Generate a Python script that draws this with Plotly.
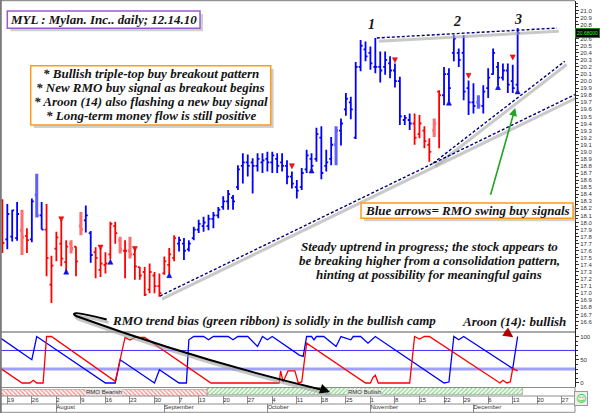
import plotly.graph_objects as go

# ---------------- data ----------------
# trading-day index: 0 = Jul 19 2010, first bar (-1) = Jul 16 2010, last bar (104) = Dec 14 2010
bar_start_index = -1
bar_high = [18.33, 18.26, 18.18, 18.29, 18.18, 17.92, 18.34, 18.69, 18.29, 18.26,
            17.53, 17.87, 18.04, 17.75, 17.75, 17.66, 18.15, 18.24, 17.88, 17.65,
            17.64, 17.58, 18.01, 18.01, 17.80, 17.75, 17.80, 17.64, 17.37, 17.37,
            17.42, 17.30, 17.28, 17.52, 17.64, 17.82, 17.80, 17.78, 17.75, 17.94,
            18.04, 18.08, 18.11, 18.15, 18.22, 18.37, 18.46, 18.39, 18.81, 18.98,
            18.96, 18.91, 18.98, 18.98, 19.00, 19.00, 18.98, 18.98, 18.88, 18.72,
            18.60, 18.77, 19.03, 18.98, 19.34, 19.36, 19.03, 19.21, 19.36, 19.47,
            19.83, 19.78, 20.27, 20.58, 20.56, 20.49, 20.61, 20.42, 20.42, 20.35,
            20.25, 20.06, 19.52, 19.54, 19.54, 19.52, 19.36, 19.19, 19.47, 19.87,
            20.20, 20.18, 20.65, 20.46, 20.65, 20.01, 19.97, 19.80, 19.94, 20.18,
            20.46, 20.27, 20.25, 20.25, 20.23, 20.75]
bar_low = [17.57, 17.62, 17.73, 17.74, 17.54, 17.57, 17.72, 18.07, 17.90, 17.24,
           16.86, 17.45, 17.38, 17.30, 17.56, 17.24, 17.82, 17.86, 17.43, 17.21,
           17.23, 17.28, 17.48, 17.70, 17.56, 17.21, 17.49, 17.19, 17.19, 16.96,
           17.00, 17.00, 16.95, 17.26, 17.28, 17.45, 17.59, 17.47, 17.59, 17.75,
           17.85, 17.87, 17.89, 17.92, 18.06, 18.18, 18.18, 18.18, 18.46, 18.55,
           18.65, 18.41, 18.72, 18.70, 18.72, 18.70, 18.70, 18.72, 18.54, 18.48,
           18.34, 18.46, 18.70, 18.72, 18.86, 18.61, 18.72, 18.81, 18.81, 19.09,
           19.51, 19.46, 19.18, 20.14, 20.28, 20.16, 20.11, 19.98, 20.09, 20.04,
           19.91, 19.38, 19.38, 19.31, 19.10, 19.19, 19.05, 18.86, 19.21, 19.05,
           19.66, 19.71, 20.28, 20.20, 19.73, 19.52, 19.54, 19.61, 19.54, 19.76,
           20.09, 19.94, 20.01, 19.83, 19.83, 19.87]
bar_open = [18.31, 17.76, 17.80, 17.78, 17.89, 17.81, 17.76, 18.39, 18.10, 17.90,
            17.12, 17.63, 17.70, 17.44, 17.70, 17.66, 17.95, 18.03, 17.85, 17.58,
            17.33, 17.40, 17.55, 17.95, 17.75, 17.60, 17.60, 17.55, 17.37, 17.30,
            17.05, 17.25, 17.10, 17.28, 17.40, 17.50, 17.70, 17.70, 17.62, 17.78,
            17.90, 17.95, 17.95, 18.05, 18.10, 18.22, 18.30, 18.35, 18.50, 18.80,
            18.85, 18.85, 18.80, 18.85, 18.90, 18.85, 18.90, 18.85, 18.80, 18.65,
            18.50, 18.50, 18.75, 18.90, 18.90, 19.20, 18.80, 18.90, 19.10, 19.30,
            19.60, 19.70, 19.20, 20.20, 20.45, 20.40, 20.20, 20.20, 20.20, 20.25,
            20.15, 20.00, 19.45, 19.45, 19.40, 19.25, 19.30, 19.10, 19.30, 19.85,
            19.80, 20.10, 20.40, 20.40, 20.40, 19.90, 19.70, 19.70, 19.65, 19.90,
            20.10, 20.20, 20.05, 20.15, 20.00, 19.95]
bar_close = [17.71, 18.12, 18.17, 18.12, 17.79, 17.75, 18.30, 18.10, 17.90, 17.50,
             17.39, 17.79, 17.49, 17.66, 17.63, 17.45, 17.90, 18.10, 17.54, 17.50,
             17.42, 17.42, 17.98, 17.85, 17.62, 17.60, 17.55, 17.38, 17.25, 16.98,
             17.30, 17.10, 17.00, 17.45, 17.55, 17.78, 17.75, 17.60, 17.70, 17.90,
             17.98, 18.00, 18.05, 18.10, 18.18, 18.30, 18.40, 18.30, 18.75, 18.85,
             18.80, 18.80, 18.90, 18.88, 18.85, 18.95, 18.80, 18.80, 18.65, 18.55,
             18.45, 18.70, 18.95, 18.80, 19.25, 18.70, 18.85, 19.10, 19.30, 19.40,
             19.75, 19.60, 20.20, 20.50, 20.35, 20.25, 20.20, 20.15, 20.30, 20.15,
             20.00, 19.50, 19.48, 19.40, 19.20, 19.40, 19.15, 19.00, 19.40, 19.80,
             20.10, 19.90, 20.60, 20.30, 19.85, 19.70, 19.65, 19.65, 19.85, 20.05,
             20.40, 20.05, 20.15, 19.95, 19.90, 20.68]
# r = red bar, b = blue bar, p = pale red (hatched), l = pale blue (hatched)
bar_color = ("rbbbprblbr" "rrrrprpbbr" "rrrrprprrr" "rrrrrrbbbb" "bbbbbbbbbb"
             "bbbbbbbbbb" "bbbbbbbblb" "bbbbbbbbbb" "bbbbrrrrpr" "bbbbbbblbb" "bbbbbb")
last_close_label = "20.68000"

# RMO swing signals (arrows)
sell_idx = [11, 19, 26, 58, 79, 94, 103]
sell_price = [18.01, 17.61, 17.59, 18.76, 20.26, 20.04, 20.30]
buy_idx = [12, 21, 33, 62, 90, 100, 104]
buy_price = [17.34, 17.48, 17.29, 18.77, 19.73, 19.95, 19.89]

# trend lines (index, price)
trend_top_x, trend_top_y = [75.3, 112.0], [20.61, 20.75]
trend_steep_x, trend_steep_y = [86.8, 113.6], [18.84, 20.28]
trend_long_x, trend_long_y = [31.1, 115.7], [16.96, 19.81]

# Aroon(14) vertices
aroon_up_x = [-1.3, 5, 6, 20, 22, 23, 30, 31, 35, 36.5, 37, 38, 40, 41, 42, 45, 46, 47, 49, 51,
              52, 53, 54, 55, 59.5, 60.3, 61, 62, 62.5, 63, 64.5, 67, 68, 70, 70.5, 72, 73.5, 75,
              89, 90, 91, 92, 93, 103, 104]
aroon_up_y = [96, 50, 100, 0, 0, 50, 0, 28.6, 0, 0, 92.9, 100, 100, 92.9, 100, 100, 92.9, 100, 100, 78.6,
              100, 92.9, 100, 92.9, 60, 57.1, 100, 100, 92.9, 100, 100, 78.6, 100, 92.9, 100, 100, 85.7, 100,
              0, 2, 100, 92.9, 100, 31, 100]
aroon_dn_x = [-1.3, 3, 4.6, 5.3, 6, 7.3, 8, 9, 22, 24, 25, 26, 28, 41.5, 55.4, 55.7, 56.2, 57.2, 58.6,
              59.3, 60, 61, 73, 74, 74.5, 75, 75.6, 82, 83, 84, 85, 86, 100.4, 101, 101.8, 102.5, 103, 104]
aroon_dn_y = [31, 0, 0, 5.8, 0, 0, 100, 100, 3.6, 98, 92.4, 98, 98, 0, 0, 26, 2.2, 26, 26,
              0, 2.2, 85.7, 0, 0, 11.6, 16.7, 0, 0, 100, 94.6, 100, 100, 0, 5.8, 0, 2.2, 31, 26]
aroon_levels = [70, 30]

# RMO trend ribbon
ribbon_labels = ["RMO Bearish", "RMO Bullish"]
ribbon_start = [-3.0, 40.75]
ribbon_end = [40.75, 105.0]

# date axis
week_idx = [0, 5, 10, 15, 20, 25, 30, 35, 39, 44, 49, 54, 59, 64, 69, 74, 79, 84, 89, 93, 98, 103, 108, 113]
week_day = ["19", "26", "2", "9", "16", "23", "30", "7", "13", "20", "27", "4", "11", "18", "25",
            "1", "8", "15", "22", "29", "6", "13", "20", "27"]
month_idx = [10, 32, 53, 74, 95]
month_names = ["August", "September", "October", "November", "December"]

# price scale labels (20.7 is hidden behind the last-price marker)
price_ticks = [round(16.6 + 0.1 * i, 1) for i in range(45)]
price_ticktext = ["" if abs(v - 20.7) < 1e-6 else f"{v:.1f}" for v in price_ticks]

# ---------------- layout geometry ----------------
W, H = 600, 413
ML, MR, MT, MB = 1, 25, 1, 0
PW, PH = W - ML - MR, H - MT - MB
XMIN, XMAX = -1.284, 115.69
PRICE_RANGE = [16.451, 21.133]
AROON_RANGE = [-9.3, 109.7]


def px_x(px):
    return (px - ML) / PW


def px_y(py):
    return (H - MB - py) / PH


fig = go.Figure()

# trend lines (shadow + dotted line)
for tx, ty in [(trend_top_x, trend_top_y), (trend_steep_x, trend_steep_y), (trend_long_x, trend_long_y)]:
    fig.add_trace(go.Scatter(x=[v + 0.4 for v in tx], y=[v - 0.045 for v in ty], mode="lines",
                             line=dict(color="rgba(165,165,165,0.6)", width=3),
                             hoverinfo="skip", showlegend=False, xaxis="x", yaxis="y"))
for tx, ty in [(trend_top_x, trend_top_y), (trend_steep_x, trend_steep_y), (trend_long_x, trend_long_y)]:
    fig.add_trace(go.Scatter(x=tx, y=ty, mode="lines",
                             line=dict(color="#00007a", width=1.4, dash="3px,2px"),
                             hoverinfo="skip", showlegend=False, xaxis="x", yaxis="y"))

bar_x = list(range(bar_start_index, bar_start_index + len(bar_high)))
styles = {"r": ("#ff0000", 1.8), "b": ("#0000ff", 1.8), "p": ("#ff6e6e", 3.0), "l": ("#5f5fff", 3.0)}


def pick(vals, g):
    return [v if c == g else None for v, c in zip(vals, bar_color)]


for g, (col, wid) in styles.items():
    fig.add_trace(go.Ohlc(x=bar_x, open=pick(bar_open, g), high=pick(bar_high, g),
                          low=pick(bar_low, g), close=pick(bar_close, g),
                          increasing=dict(line=dict(color=col, width=wid)),
                          decreasing=dict(line=dict(color=col, width=wid)),
                          tickwidth=0.4, hoverinfo="skip", showlegend=False,
                          xaxis="x", yaxis="y"))

fig.add_trace(go.Scatter(x=sell_idx, y=sell_price, mode="markers",
                         marker=dict(symbol="arrow-down", size=5, color="#ff1010",
                                     line=dict(color="#c00000", width=0.5)),
                         hoverinfo="skip", showlegend=False, xaxis="x", yaxis="y"))
fig.add_trace(go.Scatter(x=buy_idx, y=buy_price, mode="markers",
                         marker=dict(symbol="arrow-up", size=5, color="#1010ff",
                                     line=dict(color="#0000b0", width=0.5)),
                         hoverinfo="skip", showlegend=False, xaxis="x", yaxis="y"))

# Aroon panel
fig.add_trace(go.Scatter(x=aroon_up_x, y=aroon_up_y, mode="lines", line=dict(color="#0000ff", width=1.3),
                         hoverinfo="skip", showlegend=False, xaxis="x2", yaxis="y2"))
fig.add_trace(go.Scatter(x=aroon_dn_x, y=aroon_dn_y, mode="lines", line=dict(color="#ff0000", width=1.3),
                         hoverinfo="skip", showlegend=False, xaxis="x2", yaxis="y2"))

# ribbon
rib_patterns = [("\\", "#ff2020"), ("/", "#1fb41f")]
for (s, e), (shape, col) in zip(zip(ribbon_start, ribbon_end), rib_patterns):
    fig.add_trace(go.Bar(orientation="h", y=[0.5], x=[e - s], base=[s], width=[1],
                         marker=dict(color="white", line=dict(color="#909090", width=0.6),
                                     pattern=dict(shape=shape, fgcolor=col, bgcolor="white",
                                                  size=3, solidity=0.45)),
                         hoverinfo="skip", showlegend=False, xaxis="x3", yaxis="y3"))

# date rows
fig.add_trace(go.Scatter(x=week_idx, y=[0.5] * len(week_idx), mode="text", text=week_day,
                         textposition="middle right", textfont=dict(size=6, color="#333333",
                                                                   family="Liberation Sans"),
                         hoverinfo="skip", showlegend=False, xaxis="x4", yaxis="y4", cliponaxis=False))
fig.add_trace(go.Scatter(x=month_idx, y=[0.55] * len(month_idx), mode="text", text=month_names,
                         textposition="middle right", textfont=dict(size=6, color="#333333",
                                                                   family="Liberation Sans"),
                         hoverinfo="skip", showlegend=False, xaxis="x5", yaxis="y5", cliponaxis=False))

dom_price = [px_y(332), 1]
dom_aroon = [px_y(387.3), px_y(332)]
dom_rib = [px_y(396), px_y(388)]
dom_day = [px_y(404), px_y(396)]
dom_month = [px_y(412.5), px_y(404)]

base_x = dict(range=[XMIN, XMAX], showgrid=False, zeroline=False, showticklabels=False,
              ticks="", showline=False, fixedrange=True)
fig.update_layout(
    width=W, height=H, margin=dict(l=ML, r=MR, t=MT, b=MB),
    paper_bgcolor="white", plot_bgcolor="white", showlegend=False, hovermode=False,
    xaxis=dict(base_x, anchor="y", rangeslider=dict(visible=False)),
    xaxis2=dict(base_x, anchor="y2", matches="x"),
    xaxis3=dict(base_x, anchor="y3", matches="x"),
    xaxis4=dict(base_x, anchor="y4", matches="x", showgrid=True, tickmode="array", tickvals=week_idx,
                gridcolor="#8c8c8c", gridwidth=1),
    xaxis5=dict(base_x, anchor="y5", matches="x", showgrid=True, tickmode="array", tickvals=month_idx,
                gridcolor="#8c8c8c", gridwidth=1),
    yaxis=dict(domain=dom_price, range=PRICE_RANGE, side="right", anchor="x",
               tickmode="array", tickvals=price_ticks, ticktext=price_ticktext,
               ticks="outside", ticklen=3, tickcolor="#333",
               tickfont=dict(size=6, color="#333333", family="Liberation Sans"),
               minor=dict(ticks="outside", ticklen=2, dtick=0.05, tick0=16.6, tickcolor="#333"),
               showline=True, linecolor="#202020", linewidth=1, showgrid=False, zeroline=False,
               fixedrange=True),
    yaxis2=dict(domain=dom_aroon, range=AROON_RANGE, side="right", anchor="x2",
                tickmode="array", tickvals=[0, 50, 100], ticks="outside", ticklen=3, tickcolor="#333",
                tickfont=dict(size=6, color="#333333", family="Liberation Sans"),
                minor=dict(ticks="outside", ticklen=2, dtick=10, tick0=0, tickcolor="#333"),
                showline=True, linecolor="#202020", linewidth=1, showgrid=False, zeroline=False,
                fixedrange=True),
    yaxis3=dict(domain=dom_rib, range=[0, 1], anchor="x3", showticklabels=False, showgrid=False,
                zeroline=False, fixedrange=True),
    yaxis4=dict(domain=dom_day, range=[0, 1], anchor="x4", showticklabels=False, showgrid=False,
                zeroline=False, fixedrange=True),
    yaxis5=dict(domain=dom_month, range=[0, 1], anchor="x5", showticklabels=False, showgrid=False,
                zeroline=False, fixedrange=True),
)

shapes = []
# aroon reference levels
shapes.append(dict(type="line", xref="x2 domain", yref="y2", x0=0, x1=1, y0=aroon_levels[0], y1=aroon_levels[0],
                   line=dict(color="#3535ff", width=1), layer="below"))
shapes.append(dict(type="line", xref="x2 domain", yref="y2", x0=0, x1=1, y0=aroon_levels[1], y1=aroon_levels[1],
                   line=dict(color="#a0a0ff", width=3), layer="below"))
# frame lines
for py, col in [(0.7, "#7a7a7a"), (332, "#555555"), (387.5, "#8c8c8c"), (396, "#8c8c8c"),
                (404, "#8c8c8c"), (412.3, "#8c8c8c")]:
    shapes.append(dict(type="line", xref="paper", yref="paper", x0=px_x(0), x1=px_x(575),
                       y0=px_y(py), y1=px_y(py), line=dict(color=col, width=1)))
shapes.append(dict(type="line", xref="paper", yref="paper", x0=px_x(0.8), x1=px_x(0.8),
                   y0=px_y(0), y1=px_y(413), line=dict(color="#7a7a7a", width=2)))
shapes.append(dict(type="line", xref="paper", yref="paper", x0=px_x(575), x1=px_x(575),
                   y0=px_y(387), y1=px_y(412.3), line=dict(color="#8c8c8c", width=1)))


def box(x0, y0, x1, y1, color):
    shapes.append(dict(type="rect", xref="paper", yref="paper", x0=px_x(x0 + 3), x1=px_x(x1 + 3),
                       y0=px_y(y1 + 3), y1=px_y(y0 + 3), line=dict(width=0),
                       fillcolor="rgba(150,150,150,0.45)"))
    shapes.append(dict(type="rect", xref="paper", yref="paper", x0=px_x(x0), x1=px_x(x1),
                       y0=px_y(y1), y1=px_y(y0), line=dict(color=color, width=1.5), fillcolor="white"))


box(7.3, 11, 200, 28.3, "#9a5ccc")
box(30.7, 65.7, 270.7, 125, "#ff9a1a")
box(361, 203, 573, 218.3, "#ff9a1a")


# black curved arrow (paper coords)
def P(x, y):
    return f"{px_x(x):.5f},{px_y(y):.5f}"


curve = f"M {P(106.7, 319.5)} Q {P(66, 309)} {P(76, 316)} Q {P(203, 362)} {P(328, 391.3)}"
curve_sh = f"M {P(108.7, 322.5)} Q {P(68, 312)} {P(78, 319)} Q {P(205, 365)} {P(330, 394.3)}"
shapes.append(dict(type="path", xref="paper", yref="paper", path=curve_sh,
                   line=dict(color="rgba(160,160,160,0.6)", width=3)))
shapes.append(dict(type="path", xref="paper", yref="paper", path=curve,
                   line=dict(color="#000000", width=2)))
fig.update_layout(shapes=shapes)

SERIF = "Liberation Serif"


def note(text, x, y, size=13, anchor="center"):
    fig.add_annotation(xref="paper", yref="paper", x=px_x(x), y=px_y(y), text=f"<b><i>{text}</i></b>",
                       showarrow=False, xanchor=anchor, yanchor="middle",
                       font=dict(family=SERIF, size=size, color="#141414"))


note("MYL : Mylan. Inc.. daily; 12.14.10", 103.7, 19.7)
for t, yy in zip(["* Bullish triple-top buy breakout pattern",
                  "* New RMO buy signal as breakout begins",
                  "* Aroon (14) also flashing a new buy signal",
                  "* Long-term money flow is still positive"], [73, 87.3, 101.7, 115.7]):
    note(t, 150.7, yy)
note("1", 371, 25, 14)
note("2", 456.7, 21.7, 14)
note("3", 517.7, 20, 14)
note("Blue arrows= RMO swing buy signals", 467, 210.7)
for t, yy in zip(["Steady uptrend in progress; the stock appears to",
                  "be breaking higher from a consolidation pattern,",
                  "hinting at possibility for meaningful gains"], [246, 260.5, 274.5]):
    note(t, 429, yy)
note("RMO trend bias (green ribbon) is solidly in the bullish camp", 274, 320)
note("Aroon (14): bullish", 514, 321.5)

# arrows
fig.add_annotation(xref="x", yref="y", axref="x", ayref="y", x=103.5, y=19.62, ax=98.4, ay=18.37,
                   text="", showarrow=True, arrowhead=2, arrowsize=1, arrowwidth=1.6, arrowcolor="#22a522")
fig.add_annotation(xref="paper", yref="paper", x=px_x(330), y=px_y(392), ax=-9, ay=-3,
                   text="", showarrow=True, arrowhead=2, arrowsize=1, arrowwidth=2, arrowcolor="#000000")
fig.add_annotation(xref="paper", yref="paper", x=px_x(513.3), y=px_y(337.3), ax=-10, ay=-7,
                   text="", showarrow=True, arrowhead=2, arrowsize=1, arrowwidth=2, arrowcolor="#b00000")

# ribbon labels
for lab, s, e in zip(ribbon_labels, ribbon_start, ribbon_end):
    fig.add_annotation(xref="x3", yref="y3", x=(max(s, XMIN) + e) / 2, y=0.5, text=lab, showarrow=False,
                       font=dict(size=6, color="#333333", family="Liberation Sans"),
                       bgcolor="rgba(235,235,235,0.75)", borderpad=0)

# last price marker
fig.add_annotation(xref="paper", yref="y", x=1.0, y=bar_close[-1], xanchor="left", text=last_close_label,
                   showarrow=False, font=dict(size=5, color="#33ff33", family="Liberation Sans"),
                   bgcolor="#000000", bordercolor="#1a8a1a", borderwidth=1, borderpad=1)
# smiley
fig.add_annotation(xref="paper", yref="paper", x=px_x(588), y=px_y(405.5), text="☺", showarrow=False,
                   font=dict(size=10, color="#22cc22", family="DejaVu Sans"),
                   bgcolor="#eeeeee", bordercolor="#999999", borderwidth=1, borderpad=1)

fig.write_html("out.html", config={"displayModeBar": False, "staticPlot": True},
               post_script="document.body.style.margin='0px';document.body.style.padding='0px';"
                           "document.documentElement.style.overflow='hidden';")
